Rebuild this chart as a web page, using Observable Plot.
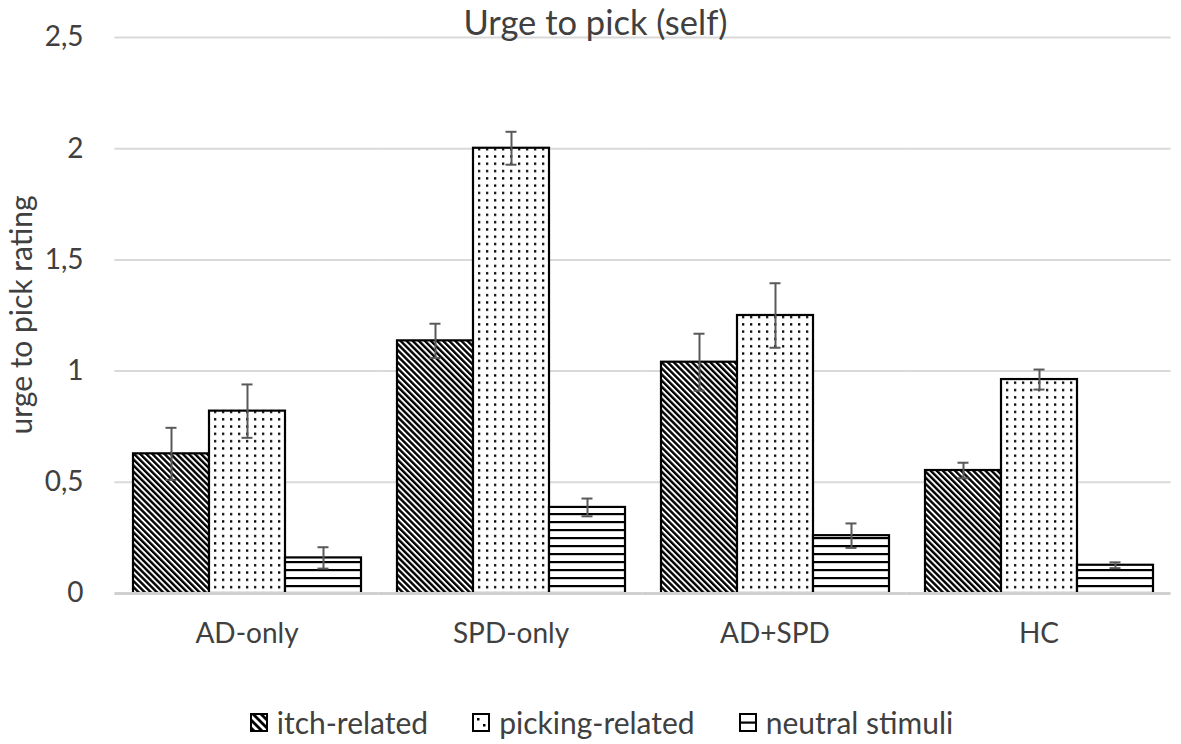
<!DOCTYPE html>
<html><head><meta charset="utf-8">
<script src="https://cdn.jsdelivr.net/npm/d3@7"></script>
<script src="https://cdn.jsdelivr.net/npm/@observablehq/plot@0.6"></script>
<style>
body{margin:0;background:#fff;}
#wrap{position:relative;width:1181px;height:744px;font-family:Lato, "Open Sans", sans-serif;color:#404040;overflow:hidden;}
#chart{position:absolute;left:0;top:0;}
#title{position:absolute;left:0;width:1181px;top:0px;text-align:center;font-size:34.5px;line-height:44px;padding-left:10px;box-sizing:border-box;}
#ylabel{position:absolute;left:20px;top:315px;transform:translate(-50%,-50%) rotate(-90deg);font-size:30px;white-space:nowrap;line-height:30px;}
#legend{position:absolute;left:0;width:1181px;top:704px;display:flex;justify-content:center;gap:44px;font-size:30px;line-height:36px;padding-left:22px;box-sizing:border-box;}
#legend .item{display:flex;align-items:center;gap:9px;}
</style></head><body>
<div id="wrap">
 <div id="chart"></div>
 <div id="title">Urge to pick (self)</div>
 <div id="ylabel">urge to pick rating</div>
 <div id="legend"></div>
</div>
<script>
const groups = ["AD-only", "SPD-only", "AD+SPD", "HC"];
const series = ["itch-related", "picking-related", "neutral stimuli"];
const itchValues = [0.628, 1.136, 1.04, 0.553];
const itchErrors = [0.117, 0.077, 0.128, 0.035];
const pickingValues = [0.820, 2.002, 1.25, 0.962];
const pickingErrors = [0.120, 0.074, 0.145, 0.045];
const neutralValues = [0.160, 0.387, 0.26, 0.127];
const neutralErrors = [0.048, 0.040, 0.055, 0.013];
const yTicks = [0, 0.5, 1, 1.5, 2, 2.5];
const yTickLabels = ["0", "0,5", "1", "1,5", "2", "2,5"];

const valueSets = [itchValues, pickingValues, neutralValues];
const errorSets = [itchErrors, pickingErrors, neutralErrors];
const data = [];
groups.forEach((g, i) => {
  series.forEach((s, j) => {
    data.push({group: g, series: s, value: valueSets[j][i], err: errorSets[j][i]});
  });
});
const patternIds = ["pat-itch", "pat-pick", "pat-neutral"];
const ext = -17.6;

const plot = Plot.plot({
  width: 1181, height: 744,
  marginTop: 37, marginBottom: 151, marginLeft: 113, marginRight: 9,
  style: {fontFamily: "Lato, 'Open Sans', sans-serif", fontSize: "28px", color: "#404040", background: "white", overflow: "visible"},
  fx: {domain: groups, paddingInner: 0.133, paddingOuter: 0.0665, label: null, tickSize: 0, tickPadding: 30, axis: "bottom"},
  x: {domain: series, axis: null, padding: 0},
  y: {domain: [0, 2.5], ticks: yTicks, tickFormat: d => yTickLabels[yTicks.indexOf(d)], label: null, tickSize: 0, tickPadding: 49},
  color: {domain: series, range: patternIds.map(id => `url(#${id})`)},
  marks: [
    Plot.ruleY(yTicks.filter(t => t > 0), {stroke: "#d9d9d9", strokeWidth: 2, insetLeft: ext, insetRight: ext}),
    Plot.barY(data, {fx: "group", x: "series", y: "value", fill: "series", stroke: "black", strokeWidth: 2.2}),
    Plot.ruleY([0], {stroke: "#d0d0d0", strokeWidth: 3, insetLeft: ext, insetRight: ext}),
    Plot.ruleX(data, {fx: "group", x: "series", y1: d => d.value - d.err, y2: d => d.value + d.err, stroke: "#595959", strokeWidth: 2}),
    Plot.tickY(data, {fx: "group", x: "series", y: d => d.value + d.err, stroke: "#595959", strokeWidth: 2, insetLeft: 32.5, insetRight: 32.5}),
    Plot.tickY(data, {fx: "group", x: "series", y: d => d.value - d.err, stroke: "#595959", strokeWidth: 2, insetLeft: 32.5, insetRight: 32.5})
  ]
});

const ns = "http://www.w3.org/2000/svg";
const defsMarkup = `
<pattern id="pat-itch" patternUnits="userSpaceOnUse" width="4.3" height="4.3" patternTransform="rotate(-45)">
  <rect width="4.3" height="4.3" fill="white"/>
  <rect width="2.4" height="4.3" fill="black"/>
</pattern>
<pattern id="pat-pick" patternUnits="userSpaceOnUse" width="8" height="7.3">
  <rect width="8" height="7.3" fill="white"/>
  <rect x="3" y="2" width="2.3" height="2.3" fill="black"/>
</pattern>
<pattern id="pat-neutral" patternUnits="userSpaceOnUse" width="8" height="8" y="1">
  <rect width="8" height="8" fill="white"/>
  <rect y="0" width="8" height="2.2" fill="black"/>
</pattern>
<pattern id="leg-itch" patternUnits="userSpaceOnUse" width="5.6" height="5.6" patternTransform="rotate(-45)">
  <rect width="5.6" height="5.6" fill="white"/>
  <rect width="2.8" height="5.6" fill="black"/>
</pattern>`;
const defs = document.createElementNS(ns, "defs");
defs.innerHTML = defsMarkup;
plot.insertBefore(defs, plot.firstChild);
document.getElementById("chart").appendChild(plot);

// legend
const legendSwatches = [
  `<svg width="18" height="19" viewBox="0 0 18 19"><rect x="1" y="1" width="16" height="17" fill="url(#leg-itch)" stroke="black" stroke-width="2"/></svg>`,
  `<svg width="18" height="19" viewBox="0 0 18 19"><rect x="1" y="1" width="16" height="17" fill="white" stroke="black" stroke-width="2"/><rect x="5" y="5" width="2.5" height="2.5"/><rect x="11" y="11" width="2.5" height="2.5"/></svg>`,
  `<svg width="18" height="19" viewBox="0 0 18 19"><rect x="1" y="1" width="16" height="17" fill="white" stroke="black" stroke-width="2"/><rect x="1" y="8.5" width="16" height="2.2"/></svg>`
];
const legend = document.getElementById("legend");
series.forEach((s, j) => {
  const item = document.createElement("div");
  item.className = "item";
  item.innerHTML = legendSwatches[j] + `<span>${s}</span>`;
  legend.appendChild(item);
});
</script>
</body></html>
